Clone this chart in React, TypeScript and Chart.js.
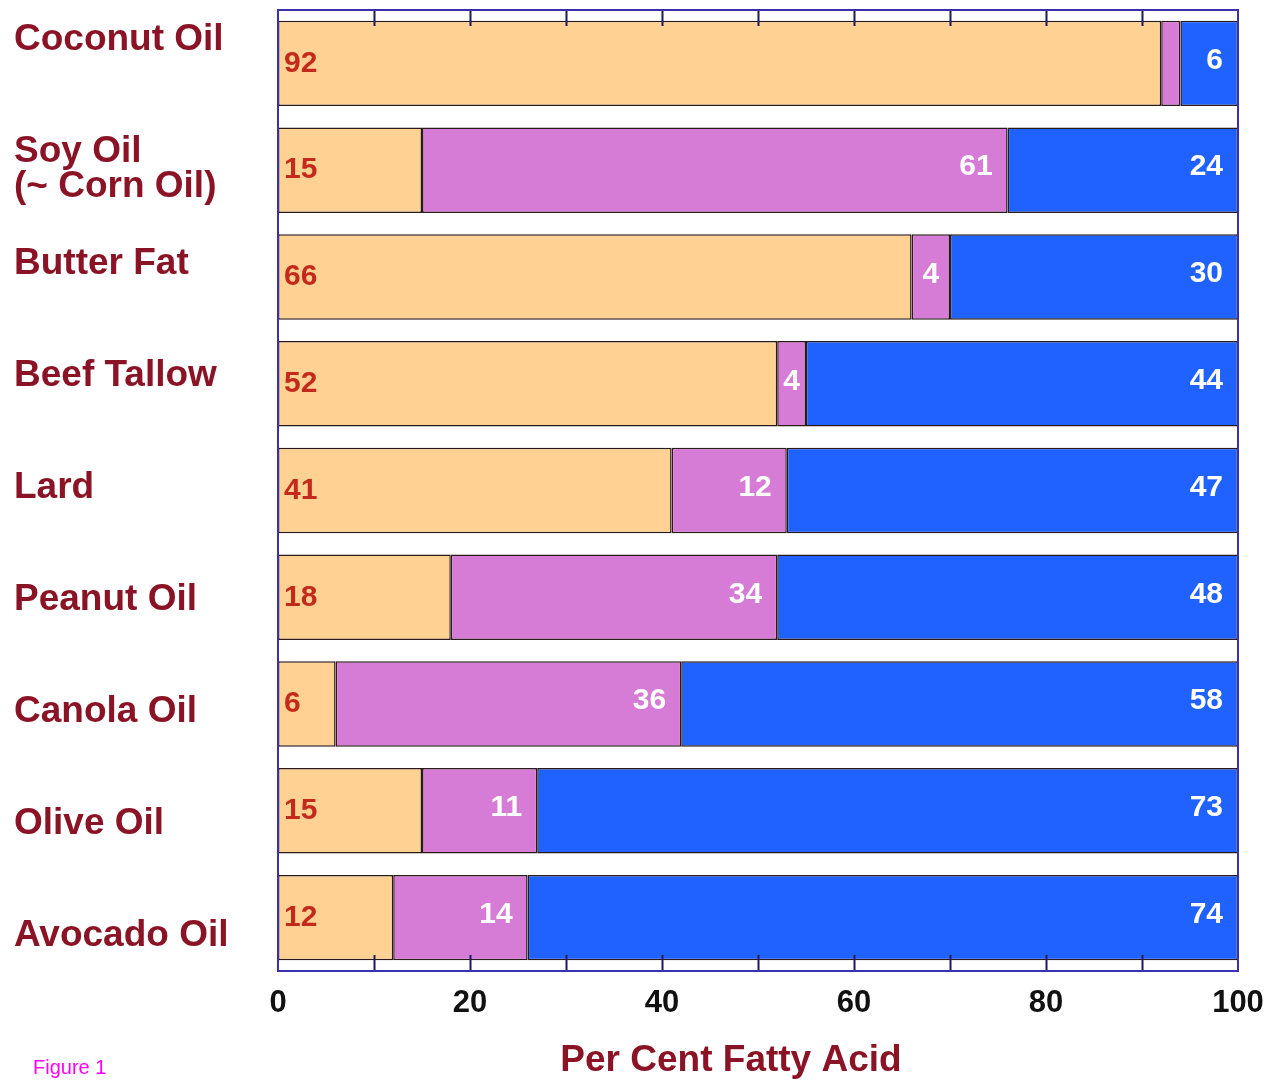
import React, { useEffect, useRef } from "react";
import { Chart, registerables } from "chart.js";

Chart.register(...registerables);

const categories: string[][] = [
  ["Coconut Oil"],
  ["Soy Oil", "(~ Corn Oil)"],
  ["Butter Fat"],
  ["Beef Tallow"],
  ["Lard"],
  ["Peanut Oil"],
  ["Canola Oil"],
  ["Olive Oil"],
  ["Avocado Oil"],
];
// bar lengths as drawn
const saturated = [92, 15, 66, 52, 41, 18, 6, 15, 12];
const polyunsaturated = [2, 61, 4, 3, 12, 34, 36, 12, 14];
const monounsaturated = [6, 24, 30, 45, 47, 48, 58, 73, 74];
// numbers printed on the bars
const saturatedPrinted = [92, 15, 66, 52, 41, 18, 6, 15, 12];
const polyPrinted = [null, 61, 4, 4, 12, 34, 36, 11, 14];
const monoPrinted = [6, 24, 30, 44, 47, 48, 58, 73, 74];
const xTickValues = [0, 20, 40, 60, 80, 100];

const FONT = "'Liberation Sans', Arial, Helvetica, sans-serif";
const LABEL_RED = "#8a1426";
const printed = [saturatedPrinted, polyPrinted, monoPrinted];
// category labels sit on a slightly wider pitch than the bars
const LABEL_PITCH = 1.0487;
const LABEL_SHIFT = -0.22;

const framePlugin = {
  id: "frameAndLabels",
  afterDatasetsDraw(chart: any) {
    const { ctx, chartArea } = chart;
    const xs = chart.scales.x;
    const ys = chart.scales.y;
    ctx.save();
    // bar value labels
    chart.data.datasets.forEach((_ds: any, di: number) => {
      const meta = chart.getDatasetMeta(di);
      meta.data.forEach((el: any, i: number) => {
        const v = printed[di][i];
        if (v === null || v === undefined) return;
        ctx.font = `bold 30px ${FONT}`;
        ctx.textBaseline = "middle";
        if (di === 0) {
          ctx.fillStyle = "#c42a1c";
          ctx.textAlign = "left";
          ctx.fillText(String(v), el.base + 6, el.y);
        } else {
          ctx.fillStyle = "#ffffff";
          if (Math.abs(el.x - el.base) < 45) {
            ctx.textAlign = "center";
            ctx.fillText(String(v), (el.x + el.base) / 2, el.y - 2);
          } else {
            ctx.textAlign = "right";
            ctx.fillText(String(v), el.x - 15, el.y - 3);
          }
        }
      });
    });
    // inward ticks
    ctx.strokeStyle = "#1e1a5e";
    ctx.lineWidth = 2;
    xs.ticks.forEach((t: any) => {
      if (t.value <= xs.min || t.value >= xs.max) return;
      const px = Math.round(xs.getPixelForValue(t.value)) + 0.5;
      ctx.beginPath();
      ctx.moveTo(px, chartArea.top);
      ctx.lineTo(px, chartArea.top + 16);
      ctx.moveTo(px, chartArea.bottom);
      ctx.lineTo(px, chartArea.bottom - 16);
      ctx.stroke();
    });
    // frame
    ctx.strokeStyle = "#3a30b0";
    ctx.lineWidth = 2;
    ctx.strokeRect(
      chartArea.left,
      chartArea.top,
      chartArea.right - chartArea.left,
      chartArea.bottom - chartArea.top
    );
    // category labels
    ctx.fillStyle = LABEL_RED;
    ctx.font = `bold 37px ${FONT}`;
    ctx.textAlign = "left";
    ctx.textBaseline = "middle";
    categories.forEach((lines, i) => {
      const y0 = ys.getPixelForValue(LABEL_SHIFT + LABEL_PITCH * i);
      lines.forEach((line, k) => {
        ctx.fillText(line, 14, y0 + k * 35);
      });
    });
    // axis title
    ctx.font = `bold 37px ${FONT}`;
    ctx.textAlign = "center";
    ctx.fillText("Per Cent Fatty Acid", (chartArea.left + chartArea.right) / 2 - 27, 1061);
    ctx.restore();
  },
};

export default function App() {
  const ref = useRef<HTMLCanvasElement | null>(null);

  useEffect(() => {
    document.body.style.margin = "0";
    if (!ref.current) return;
    const barStyle = {
      borderColor: "#2a1a1a",
      borderWidth: 1.5,
      borderSkipped: false as const,
      barPercentage: 0.8,
      categoryPercentage: 1.0,
    };
    const chart = new Chart(ref.current, {
      type: "bar",
      data: {
        labels: categories.map((l) => l.join(" ")),
        datasets: [
          { label: "Saturated", data: saturated, backgroundColor: "#ffd293", ...barStyle },
          { label: "Polyunsaturated", data: polyunsaturated, backgroundColor: "#d77cd6", ...barStyle },
          { label: "Monounsaturated", data: monounsaturated, backgroundColor: "#1f62ff", ...barStyle },
        ],
      },
      options: {
        indexAxis: "y",
        animation: false,
        responsive: false,
        maintainAspectRatio: false,
        layout: { padding: { left: 14, top: 10, right: 36, bottom: 0 } },
        plugins: {
          legend: { display: false },
          tooltip: { enabled: false },
        },
        scales: {
          x: {
            stacked: true,
            min: 0,
            max: 100,
            grid: { display: false, drawTicks: false },
            border: { display: false },
            ticks: {
              stepSize: 10,
              autoSkip: false,
              maxRotation: 0,
              padding: 14,
              color: "#111111",
              font: { family: FONT, size: 31, weight: "bold" },
              callback: (v: any) => (xTickValues.includes(Number(v)) ? String(v) : ""),
            },
            afterFit: (s: any) => {
              s.height = 119;
              s.paddingLeft = 0;
              s.paddingRight = 0;
            },
          },
          y: {
            stacked: true,
            grid: { display: false, drawTicks: false },
            border: { display: false },
            ticks: { display: false },
            afterFit: (s: any) => {
              s.width = 264;
              s.paddingTop = 0;
              s.paddingBottom = 0;
            },
          },
        },
      },
      plugins: [framePlugin],
    });
    return () => chart.destroy();
  }, []);

  return (
    <div style={{ position: "relative", width: 1274, height: 1090, background: "#ffffff" }}>
      <canvas ref={ref} width={1274} height={1090} style={{ display: "block" }} />
      <div
        style={{
          position: "absolute",
          left: 33,
          top: 1055,
          fontFamily: "Arial, 'Liberation Sans', sans-serif",
          fontSize: 20,
          color: "#ff00ff",
          lineHeight: "24px",
        }}
      >
        Figure 1
      </div>
    </div>
  );
}
